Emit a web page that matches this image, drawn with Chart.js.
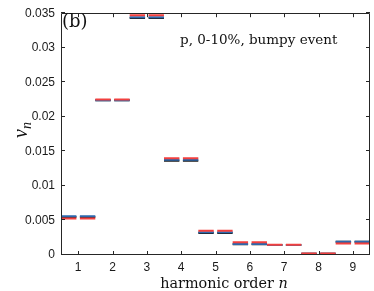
<!DOCTYPE html>
<html>
<head>
<meta charset="utf-8">
<script src="https://cdn.jsdelivr.net/npm/chart.js@4.4.1/dist/chart.umd.min.js"></script>
<style>
  html, body { margin: 0; padding: 0; background: #fff; }
  #wrap { width: 374px; height: 291px; }
</style>
</head>
<body>
<div id="wrap"><canvas id="vnChart" width="374" height="291"></canvas></div>
<script>
const harmonics = [1, 2, 3, 4, 5, 6, 7, 8, 9];
const harmonicLabels = ['1', '2', '3', '4', '5', '6', '7', '8', '9'];
const vnBlack = [0.0055, 0.0224, 0.0343, 0.01365, 0.0032, 0.00155, 0.00145, 0.00018, 0.0019];
const vnBlue = [0.0056, 0.0224, 0.0344, 0.0138, 0.0033, 0.0016, 0.00145, 0.00018, 0.0019];
const vnRed = [0.0053, 0.0225, 0.0347, 0.0140, 0.0035, 0.00185, 0.0015, 0.0002, 0.00165];
const yTicks = [0, 0.005, 0.01, 0.015, 0.02, 0.025, 0.03, 0.035];
const yTickLabels = ['0', '0.005', '0.01', '0.015', '0.02', '0.025', '0.03', '0.035'];

const AXIS = '#262626';

// each harmonic gets a flat segment from n-0.5 to n+0.5, broken between harmonics
function steps(values) {
  const pts = [];
  harmonics.forEach((n, i) => {
    pts.push({ x: n - 0.5, y: values[i] }, { x: n + 0.5, y: values[i] });
    if (i < harmonics.length - 1) pts.push({ x: n + 0.5, y: null });
  });
  return pts;
}

function series(values, color, order) {
  return {
    data: steps(values),
    borderColor: color,
    borderWidth: 2,
    borderDash: [15.4, 3.5],
    pointRadius: 0,
    fill: false,
    spanGaps: false,
    order,
  };
}

const frame = {
  id: 'frame',
  afterDraw(chart) {
    const { ctx, chartArea: a } = chart;
    const xs = chart.scales.x, ys = chart.scales.y;
    ctx.save();
    ctx.strokeStyle = AXIS;
    ctx.lineWidth = 1;
    ctx.beginPath();
    ctx.rect(Math.round(a.left) + 0.5, Math.round(a.top) + 0.5,
      Math.round(a.right - a.left) - 1, Math.round(a.bottom - a.top) - 1);
    harmonics.forEach((n) => {
      const px = Math.round(xs.getPixelForValue(n)) + 0.5;
      ctx.moveTo(px, a.bottom); ctx.lineTo(px, a.bottom - 4);
      ctx.moveTo(px, a.top); ctx.lineTo(px, a.top + 4);
    });
    yTicks.forEach((v) => {
      const py = Math.round(ys.getPixelForValue(v)) - 0.5;
      ctx.moveTo(a.left, py); ctx.lineTo(a.left + 4, py);
      ctx.moveTo(a.right, py); ctx.lineTo(a.right - 4, py);
    });
    ctx.stroke();

    ctx.fillStyle = '#111';
    ctx.textBaseline = 'alphabetic';
    ctx.textAlign = 'left';
    ctx.font = '18px "DejaVu Serif"';
    ctx.fillText('(b)', a.left + 1, 27);
    ctx.font = '13.5px "DejaVu Serif"';
    ctx.fillText('p, 0-10%, bumpy event', 180, 44);

    // x title: "harmonic order n"
    const head = 'harmonic order ';
    ctx.font = '14.4px "DejaVu Serif"';
    const wHead = ctx.measureText(head).width;
    ctx.font = 'italic 14.4px "DejaVu Serif"';
    const wN = ctx.measureText('n').width;
    const x0 = 224 - (wHead + wN) / 2;
    ctx.font = '14.4px "DejaVu Serif"';
    ctx.fillText(head, x0, 288);
    ctx.font = 'italic 14.4px "DejaVu Serif"';
    ctx.fillText('n', x0 + wHead, 288);

    // y title: v_n rotated
    ctx.translate(27, 130);
    ctx.rotate(-Math.PI / 2);
    ctx.font = 'italic 20px "Liberation Serif"';
    const wv = ctx.measureText('v').width;
    ctx.fillText('v', -8, 0);
    ctx.font = 'italic 14px "Liberation Serif"';
    ctx.fillText('n', -8 + wv, 4);
    ctx.restore();
  },
};

new Chart(document.getElementById('vnChart'), {
  type: 'line',
  data: {
    datasets: [
      series(vnBlack, '#1c1c1c', 2),
      series(vnBlue, '#2c68ad', 1),
      series(vnRed, '#f2403f', 0),
    ],
  },
  options: {
    responsive: false,
    animation: false,
    devicePixelRatio: 1,
    layout: { padding: { top: 13, right: 4, left: 0, bottom: 0 } },
    plugins: { legend: { display: false }, tooltip: { enabled: false } },
    scales: {
      x: {
        type: 'linear',
        min: 0.5,
        max: 9.5,
        afterBuildTicks: (s) => { s.ticks = harmonics.map((v) => ({ value: v })); },
        afterFit: (s) => { s.height = 36; },
        grid: { display: false, drawTicks: false },
        border: { display: false },
        ticks: {
          padding: 5,
          maxRotation: 0,
          color: '#1a1a1a',
          font: { family: '"Liberation Sans", Arial, sans-serif', size: 12 },
          callback: (v) => harmonicLabels[harmonics.indexOf(v)] ?? '',
        },
      },
      y: {
        min: 0,
        max: 0.035,
        afterBuildTicks: (s) => { s.ticks = yTicks.map((v) => ({ value: v })); },
        afterFit: (s) => { s.width = 61; },
        grid: { display: false, drawTicks: false },
        border: { display: false },
        ticks: {
          padding: 6,
          color: '#1a1a1a',
          font: { family: '"Liberation Sans", Arial, sans-serif', size: 12 },
          callback: (v) => yTickLabels[yTicks.indexOf(v)] ?? '',
        },
      },
    },
  },
  plugins: [frame],
});
</script>
</body>
</html>
